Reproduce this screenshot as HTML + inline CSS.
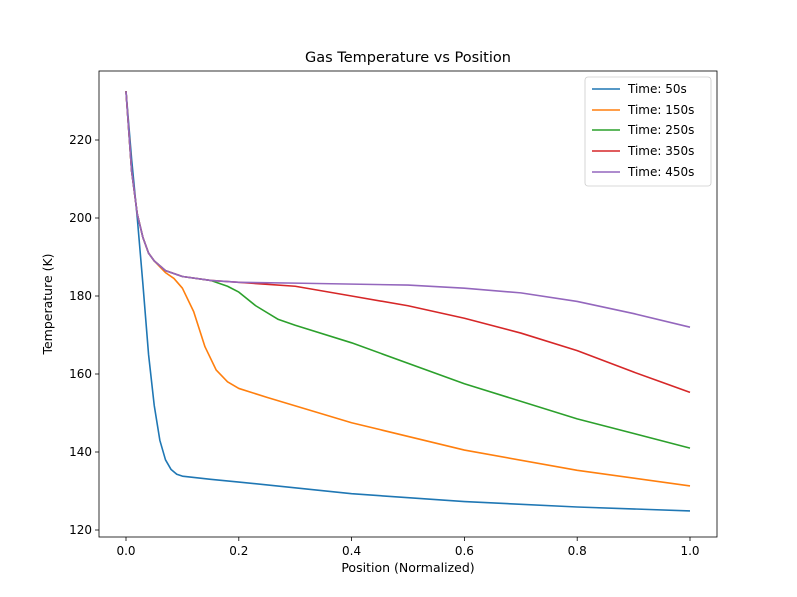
<!DOCTYPE html>
<html><head><meta charset="utf-8"><style>
html,body{margin:0;padding:0;background:#fff;}
svg{display:block;font-family:"DejaVu Sans","Liberation Sans",sans-serif;}
</style></head><body>
<svg width="797" height="597" viewBox="0 0 797 597" xmlns="http://www.w3.org/2000/svg">
<rect width="797" height="597" fill="#fff"/>
<text x="408" y="62" font-size="14.5" text-anchor="middle">Gas Temperature vs Position</text>
<g fill="none" stroke-width="1.6" stroke-linejoin="round">
<g transform="matrix(564,0,0,-3.9,126,998)">
<polyline vector-effect="non-scaling-stroke" stroke="#1f77b4" points="0,232.5 0.01,215 0.02,200 0.03,183 0.04,165 0.05,152 0.06,143 0.07,138 0.08,135.5 0.09,134.3 0.1,133.8 0.15,133 0.2,132.3 0.4,129.3 0.6,127.3 0.8,125.9 1,124.9"/>
<polyline vector-effect="non-scaling-stroke" stroke="#ff7f0e" points="0,232.5 0.01,212 0.02,201 0.03,195 0.04,191 0.05,189 0.07,186 0.085,184.5 0.1,182 0.12,176 0.14,167 0.16,161 0.18,158 0.2,156.3 0.25,154 0.4,147.5 0.6,140.5 0.8,135.3 1,131.3"/>
<polyline vector-effect="non-scaling-stroke" stroke="#2ca02c" points="0,232.5 0.01,212 0.02,201 0.03,195 0.04,191 0.05,189 0.07,186.5 0.1,185 0.15,184 0.18,182.5 0.2,181 0.23,177.5 0.27,174 0.3,172.5 0.4,168 0.6,157.5 0.8,148.5 1,141"/>
<polyline vector-effect="non-scaling-stroke" stroke="#d62728" points="0,232.5 0.01,212 0.02,201 0.03,195 0.04,191 0.05,189 0.07,186.5 0.1,185 0.15,184 0.2,183.5 0.25,183 0.3,182.5 0.4,180 0.5,177.5 0.6,174.3 0.7,170.5 0.8,166 0.9,160.5 1,155.3"/>
<polyline vector-effect="non-scaling-stroke" stroke="#9467bd" points="0,232.5 0.01,212 0.02,201 0.03,195 0.04,191 0.05,189 0.07,186.5 0.1,185 0.15,184 0.2,183.5 0.3,183.3 0.5,182.8 0.6,182 0.7,180.8 0.8,178.6 0.9,175.5 1,172"/>
</g>
</g>
<rect x="99" y="71" width="618" height="466" fill="none" stroke="#000" stroke-width="0.8"/>
<g stroke="#000" stroke-width="0.8">
<line x1="126" y1="537" x2="126" y2="541"/><line x1="238.8" y1="537" x2="238.8" y2="541"/><line x1="351.6" y1="537" x2="351.6" y2="541"/><line x1="464.4" y1="537" x2="464.4" y2="541"/><line x1="577.2" y1="537" x2="577.2" y2="541"/><line x1="690" y1="537" x2="690" y2="541"/>
<line x1="95" y1="530" x2="99" y2="530"/><line x1="95" y1="452" x2="99" y2="452"/><line x1="95" y1="374" x2="99" y2="374"/><line x1="95" y1="296" x2="99" y2="296"/><line x1="95" y1="218" x2="99" y2="218"/><line x1="95" y1="140" x2="99" y2="140"/>
</g>
<g font-size="12" text-anchor="middle">
<text x="126" y="555">0.0</text><text x="238.8" y="555">0.2</text><text x="351.6" y="555">0.4</text><text x="464.4" y="555">0.6</text><text x="577.2" y="555">0.8</text><text x="690" y="555">1.0</text>
</g>
<g font-size="12" text-anchor="end">
<text x="92" y="534">120</text><text x="92" y="456">140</text><text x="92" y="378">160</text><text x="92" y="300">180</text><text x="92" y="222">200</text><text x="92" y="144">220</text>
</g>
<text x="408" y="572" font-size="12.5" text-anchor="middle">Position (Normalized)</text>
<text x="0" y="0" font-size="12.5" text-anchor="middle" transform="translate(52,304) rotate(-90)">Temperature (K)</text>
<rect x="585" y="77" width="126" height="109" rx="3" fill="#fff" stroke="#ccc" stroke-width="0.8"/>
<g stroke-width="1.6">
<line x1="592" y1="89" x2="620" y2="89" stroke="#1f77b4"/>
<line x1="592" y1="110" x2="620" y2="110" stroke="#ff7f0e"/>
<line x1="592" y1="130" x2="620" y2="130" stroke="#2ca02c"/>
<line x1="592" y1="151" x2="620" y2="151" stroke="#d62728"/>
<line x1="592" y1="172" x2="620" y2="172" stroke="#9467bd"/>
</g>
<g font-size="12">
<text x="628" y="93">Time: 50s</text>
<text x="628" y="114">Time: 150s</text>
<text x="628" y="134">Time: 250s</text>
<text x="628" y="155">Time: 350s</text>
<text x="628" y="176">Time: 450s</text>
</g>
</svg>
</body></html>
